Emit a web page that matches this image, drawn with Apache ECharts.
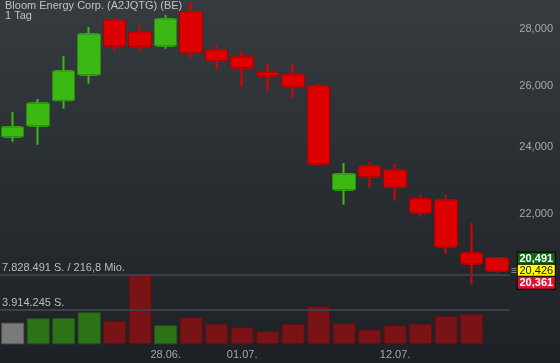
<!DOCTYPE html>
<html><head><meta charset="utf-8">
<script src="https://cdn.jsdelivr.net/npm/echarts@6/dist/echarts.min.js"></script>
<style>html,body{margin:0;padding:0;background:#1d2125}#c{width:560px;height:363px}</style>
</head><body><div id="c"></div>
<script>
// ---- data (EUR, Berlin) ----
const dates = ['18.06.','21.06.','22.06.','23.06.','24.06.','25.06.','28.06.','29.06.','30.06.','01.07.','02.07.','05.07.','06.07.','07.07.','08.07.','12.07.','13.07.','14.07.','15.07.','16.07.'];
const open  = [24.337,24.689,25.521,26.388,28.342,27.901,27.407,28.640,27.253,27.005,26.482,26.378,26.002,22.710,23.423,23.301,22.436,22.406,20.908,20.772];
const close = [24.647,25.421,26.516,27.829,27.407,27.371,28.379,27.157,26.875,26.631,26.354,25.978,23.494,23.180,23.098,22.790,22.038,21.081,20.618,20.426];
const low   = [24.178,24.084,25.243,26.080,27.229,27.193,27.300,26.981,26.561,25.978,25.809,25.608,23.454,22.269,22.769,22.386,21.923,20.889,20.071,20.377];
const high  = [25.134,25.565,27.041,28.084,28.453,28.158,28.528,29.016,27.432,27.218,26.795,26.760,26.094,23.515,23.546,23.484,22.553,22.553,21.743,20.799];
const volume = [2416000,2908000,2941000,3579000,2639000,7828491,2125000,3020000,2304000,1901000,1487000,2270000,4250000,2382000,1678000,2125000,2304000,3165000,3389000,null];
const priceTicks = [22,24,26,28];
const dateTicks = ['28.06.','01.07.','12.07.'];
const volumeLevels = [7828491, 3914245];
const volumeLabels = ['7.828.491 S. / 216,8 Mio.', '3.914.245 S.'];
const quoteBid = 20.491, quoteLast = 20.426, quoteAsk = 20.361;
const titleText = 'Bloom Energy Corp. (A2JQTG) (BE)';
const periodText = '1 Tag';

// ---- build ----
const fmt = v => v.toFixed(3).replace('.', ',');
const FONT = '"Liberation Sans", Arial, sans-serif';
const candleFull = dates.map((d, i) => [open[i], close[i], low[i], high[i]]);
const candleBody = dates.map((d, i) => [open[i], close[i], Math.min(open[i], close[i]), Math.max(open[i], close[i])]);
const volData = volume.map((v, i) => {
  let c = '#7a7a7a', b = '#5a5a5a';
  if (i > 0) {
    if (close[i] >= close[i-1]) { c = '#2d7419'; b = '#21561a'; }
    else { c = '#7a1315'; b = '#5c1012'; }
  }
  return { value: v, itemStyle: { color: c, borderColor: b, borderWidth: 1 } };
});

const chart = echarts.init(document.getElementById('c'), null, { renderer: 'canvas' });
const gridLeft = -1, gridRight = 50.2, gridBottom = 18.7;
chart.setOption({
  animation: false,
  backgroundColor: { type: 'linear', x: 0, y: 0, x2: 0, y2: 1,
    colorStops: [{ offset: 0, color: '#353b3f' }, { offset: 1, color: '#1d2125' }] },
  textStyle: { fontFamily: FONT },
  title: {
    text: titleText + '\n' + periodText, left: 5, top: 1, padding: 0,
    textStyle: { fontSize: 11, fontWeight: 'normal', color: '#c2c2c2', lineHeight: 10, fontFamily: FONT }
  },
  grid: [
    { left: gridLeft, right: gridRight, top: 0, bottom: gridBottom },
    { left: gridLeft, right: gridRight, top: 274.3, bottom: gridBottom }
  ],
  xAxis: [
    { type: 'category', gridIndex: 0, data: dates, boundaryGap: true,
      axisLine: { show: false }, axisTick: { show: false }, axisLabel: { show: false }, splitLine: { show: false } },
    { type: 'category', gridIndex: 1, data: dates, boundaryGap: true,
      axisLine: { show: false }, axisTick: { show: false }, splitLine: { show: false },
      axisLabel: { interval: (i, v) => dateTicks.includes(v), color: '#a6a6a6', fontSize: 11, margin: 5, fontFamily: FONT } }
  ],
  yAxis: [
    { type: 'log', gridIndex: 0, position: 'right', min: 18.558, max: 29.092,
      axisLine: { show: false }, axisTick: { show: false }, splitLine: { show: false },
      axisLabel: { customValues: priceTicks, formatter: v => fmt(v), align: 'right', margin: 43.2,
        color: '#a8a8a8', fontSize: 11, fontFamily: FONT } },
    { type: 'value', gridIndex: 1, min: 0, max: volumeLevels[0],
      axisLine: { show: false }, axisTick: { show: false }, splitLine: { show: false }, axisLabel: { show: false } }
  ],
  series: [
    { type: 'bar', xAxisIndex: 1, yAxisIndex: 1, data: volData, barWidth: 23, silent: true,
      markLine: { silent: true, symbol: 'none',
        lineStyle: { color: '#3b4045', width: 2, type: 'solid' },
        label: { position: 'insideStartTop', distance: [2, 1], color: '#bcbcbc', fontSize: 11, fontFamily: FONT },
        data: volumeLevels.map((v, i) => ({ yAxis: v, label: { formatter: volumeLabels[i] } })) } },
    { type: 'candlestick', xAxisIndex: 0, yAxisIndex: 0, data: candleFull, barWidth: 17, silent: true,
      itemStyle: { color: '#3cb814', color0: '#dd0000', borderColor: '#3cb814', borderColor0: '#dd0000', borderWidth: 2 } },
    { type: 'candlestick', xAxisIndex: 0, yAxisIndex: 0, data: candleBody, barWidth: 23, silent: true,
      itemStyle: { color: '#3cb814', color0: '#dd0000', borderColor: '#2a8a0e', borderColor0: '#a80000', borderWidth: 1 } },
    { type: 'line', xAxisIndex: 0, yAxisIndex: 0, data: [], silent: true,
      markLine: { silent: true, symbol: 'none', animation: false,
        lineStyle: { color: 'rgba(0,0,0,0)', width: 1 },
        label: {
          show: true, position: 'end', distance: 1,
          formatter: () => '{s|}{g|' + fmt(quoteBid) + '}\n{e|≡}{y|' + fmt(quoteLast) + '}\n{s|}{r|' + fmt(quoteAsk) + '}',
          rich: {
            s: { width: 7, height: 12, lineHeight: 12 },
            e: { width: 7, color: '#9a9a9a', fontSize: 11, lineHeight: 12 },
            g: { backgroundColor: '#0b6b12', color: '#ffffff', borderColor: '#000', borderWidth: 1, width: 37, height: 12, lineHeight: 12, align: 'center', fontWeight: 'bold', fontSize: 11 },
            y: { backgroundColor: '#ffff00', color: '#111111', borderColor: '#000', borderWidth: 1, width: 37, height: 12, lineHeight: 12, align: 'center', fontSize: 11 },
            r: { backgroundColor: '#e0102c', color: '#ffffff', borderColor: '#000', borderWidth: 1, width: 37, height: 12, lineHeight: 12, align: 'center', fontWeight: 'bold', fontSize: 11 }
          }
        },
        data: [{ yAxis: quoteLast }] } }
  ]
});
</script></body></html>
